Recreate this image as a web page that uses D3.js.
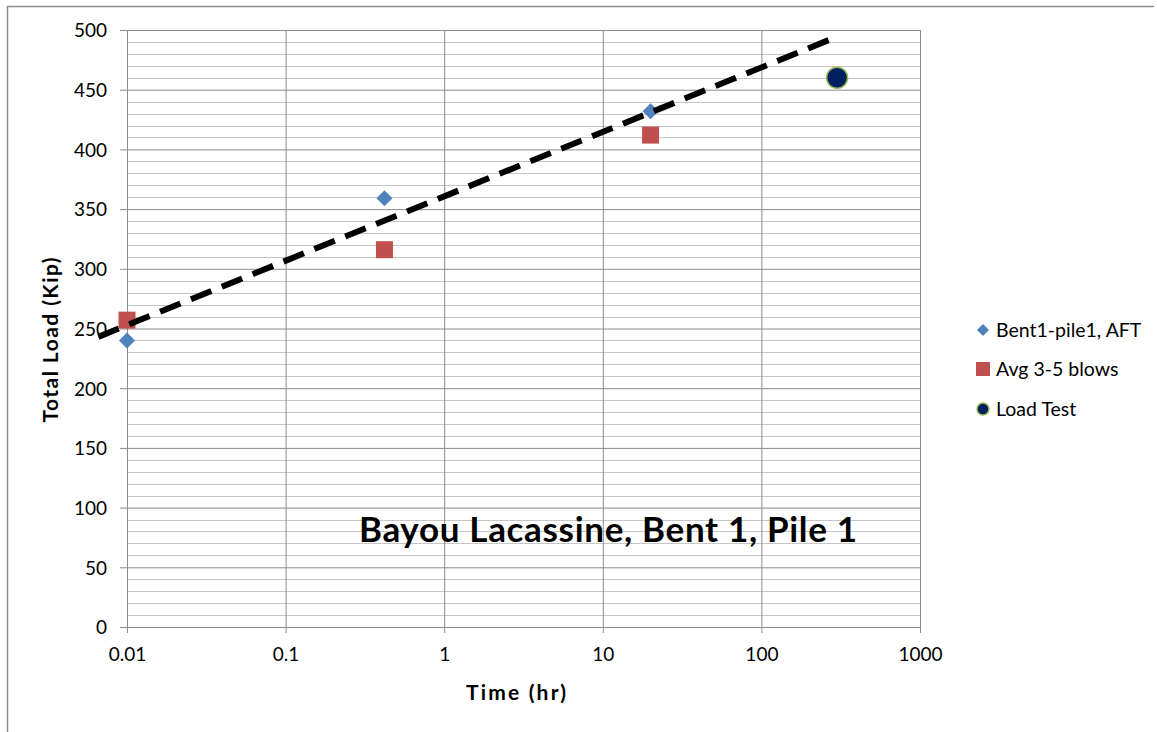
<!DOCTYPE html>
<html><head><meta charset="utf-8">
<script src="https://cdn.jsdelivr.net/npm/d3@7"></script>
<style>body{margin:0;background:#fff;} svg{display:block;} text{font-family:Lato, "Open Sans", sans-serif;}</style>
</head><body>
<svg id="c" width="1157" height="732"></svg>
<script>
const timeBent = [0.01, 0.42, 20];
const loadBent = [240, 359, 432];
const timeAvg = [0.01, 0.42, 20];
const loadAvg = [257, 316, 412];
const timeLT = [300];
const loadLT = [460];
const trendTime = [0.0066, 265];
const trendLoad = [243, 491.5];
const xTicks = [0.01, 0.1, 1, 10, 100, 1000];
const xTickLabels = ["0.01", "0.1", "1", "10", "100", "1000"];
const yTicks = [0, 50, 100, 150, 200, 250, 300, 350, 400, 450, 500];
const legendLabels = ["Bent1-pile1, AFT", "Avg 3-5 blows", "Load Test"];
const titleText = "Bayou Lacassine, Bent 1, Pile 1";

const svg = d3.select("#c");
const L = 127, R = 920, T = 30, B = 627;
const x = d3.scaleLog().domain([0.01, 1000]).range([L, R]);
const y = d3.scaleLinear().domain([0, 500]).range([B, T]);

// outer chart border
svg.append("path").attr("d", `M7.5,732 V6.5 H1154`).attr("fill","none").attr("stroke","#8c8c8c").attr("stroke-width",1.5);

// minor horizontal grid
const minor = d3.range(0, 501, 10).filter(v => v % 50 !== 0);
svg.append("g").selectAll("line").data(minor).join("line")
  .attr("x1", L).attr("x2", R).attr("y1", d => Math.round(y(d))+0.5).attr("y2", d => Math.round(y(d))+0.5)
  .attr("stroke", "#c6c6c6").attr("stroke-width", 1);

// major grid via axes
const yAxis = d3.axisLeft(y).tickValues(yTicks).tickSize(7).tickPadding(6).tickFormat(d3.format("d"));
const gy = svg.append("g").attr("transform", `translate(${L},0)`).call(yAxis);
gy.select(".domain").remove();
gy.selectAll("line").attr("stroke", "#8c8c8c").attr("x2", -7);
gy.selectAll(".tick").append("line").attr("x1", 0).attr("x2", R - L).attr("stroke", "#8c8c8c");
gy.selectAll("text").attr("font-size", 19).attr("fill", "#000").attr("font-family", "Lato, sans-serif").attr("dy", "0.36em").attr("x", -20);

const xAxis = d3.axisBottom(x).tickValues(xTicks).tickSize(6).tickPadding(15).tickFormat((d, i) => xTickLabels[i]);
const gx = svg.append("g").attr("transform", `translate(0,${B})`).call(xAxis);
gx.select(".domain").remove();
gx.selectAll("line").attr("stroke", "#8c8c8c");
gx.selectAll(".tick").append("line").attr("y1", 0).attr("y2", T - B).attr("stroke", "#8c8c8c");
gx.selectAll("text").attr("font-size", 19).attr("fill", "#000").attr("font-family", "Lato, sans-serif");

// title inside plot
svg.append("text").attr("x", 608).attr("y", 542).attr("text-anchor", "middle")
  .attr("font-size", 35).attr("font-weight", "bold").attr("fill", "#000")
  .attr("textLength", 498).attr("lengthAdjust", "spacing").text(titleText);

// axis titles
svg.append("text").attr("transform", `translate(58,340) rotate(-90)`).attr("text-anchor", "middle")
  .attr("font-size", 21).attr("font-weight", "bold")
  .attr("textLength", 165).attr("lengthAdjust", "spacing").text("Total Load  (Kip)");
svg.append("text").attr("x", 516).attr("y", 700).attr("text-anchor", "middle")
  .attr("font-size", 21).attr("font-weight", "bold")
  .attr("textLength", 100).attr("lengthAdjust", "spacing").text("Time  (hr)");

// points
const bent = timeBent.map((t, i) => ({t, v: loadBent[i]}));
svg.append("g").selectAll("path").data(bent).join("path")
  .attr("d", d3.symbol().type(d3.symbolSquare).size(128))
  .attr("transform", d => `translate(${x(d.t)},${y(d.v)}) rotate(45)`)
  .attr("fill", "#4f81bd");
const avg = timeAvg.map((t, i) => ({t, v: loadAvg[i]}));
svg.append("g").selectAll("rect").data(avg).join("rect")
  .attr("x", d => x(d.t) - 8.5).attr("y", d => y(d.v) - 8.5).attr("width", 17).attr("height", 17)
  .attr("fill", "#c0504d");
const lt = timeLT.map((t, i) => ({t, v: loadLT[i]}));
svg.append("g").selectAll("circle").data(lt).join("circle")
  .attr("cx", d => x(d.t)).attr("cy", d => y(d.v)).attr("r", 10.5)
  .attr("fill", "#002060").attr("stroke", "#9bbb59").attr("stroke-width", 1.5);

// trend line
const tr = trendTime.map((t, i) => ({t, v: trendLoad[i]}));
const trendPath = svg.append("path").datum(tr)
  .attr("d", d3.line().x(d => x(d.t)).y(d => y(d.v)))
  .attr("stroke", "#000").attr("stroke-width", 6).attr("fill", "none");
const len = trendPath.node().getTotalLength();
const dash = 22, n = Math.round((len - dash) / 33);
trendPath.attr("stroke-dasharray", `${dash},${(len - dash) / n - dash}`);

// legend
const lg = svg.append("g");
const ly = [330, 369, 409];
lg.append("path").attr("d", d3.symbol().type(d3.symbolSquare).size(72)).attr("transform", `translate(983,${ly[0]}) rotate(45)`).attr("fill", "#4f81bd");
lg.append("rect").attr("x", 976).attr("y", ly[1]-7).attr("width", 14).attr("height", 14).attr("fill", "#c0504d");
lg.append("circle").attr("cx", 983).attr("cy", ly[2]).attr("r", 6).attr("fill", "#002060").attr("stroke", "#9bbb59").attr("stroke-width", 1.5);
lg.selectAll("text").data(legendLabels).join("text")
  .attr("x", 996).attr("y", (d, i) => ly[i]).attr("dy", "0.36em").attr("font-size", 19.5).text(d => d);
</script>
</body></html>
